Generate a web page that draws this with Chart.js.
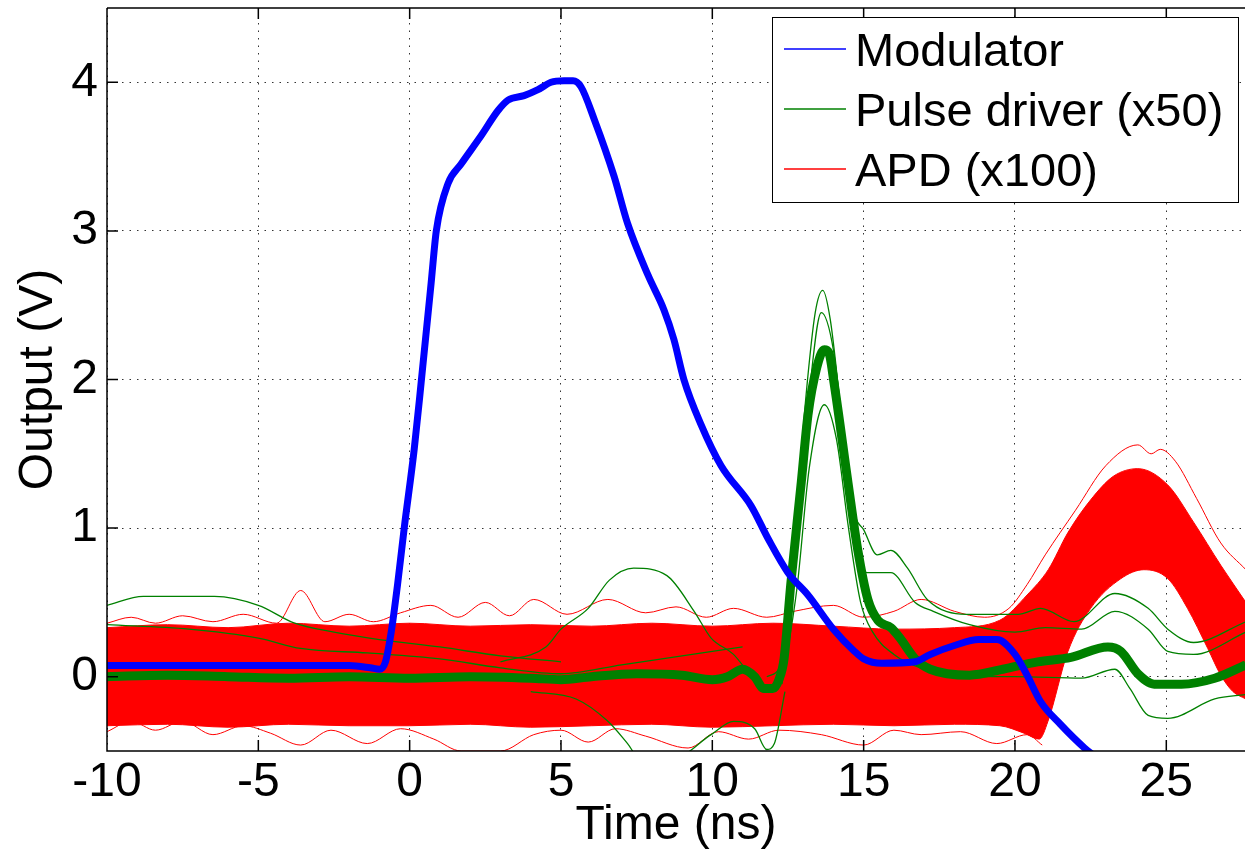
<!DOCTYPE html>
<html>
<head>
<meta charset="utf-8">
<script src="https://cdn.jsdelivr.net/npm/chart.js@4.4.0/dist/chart.umd.min.js"></script>
<style>
  body { margin: 0; background: #fff; }
</style>
</head>
<body>
<canvas id="scope" width="1245" height="855"></canvas>
<script>
// modulator output
const modT = [-10, -8, -6, -4, -2, -1.3, -1.0, -0.8, -0.61, -0.4, -0.18, 0.15, 0.38, 0.71, 0.88, 1.27, 1.7, 2.36, 2.92, 3.25, 3.78, 4.24, 4.67, 5.1, 5.4, 5.66, 6.1, 6.75, 7.2, 7.88, 8.4, 8.73, 9.06, 9.62, 10.29, 11.28, 11.84, 12.5, 13.16, 14.0, 14.7, 15.0, 15.6, 16.7, 17.2, 18.0, 18.8, 19.4, 20.0, 20.4, 20.85, 21.5, 22.3, 22.8];
const modV = [0.075, 0.075, 0.075, 0.075, 0.075, 0.06, 0.05, 0.1, 0.3, 0.62, 1.0, 1.53, 1.98, 2.65, 3.0, 3.32, 3.45, 3.64, 3.81, 3.88, 3.91, 3.95, 4.0, 4.01, 4.01, 3.97, 3.75, 3.37, 3.05, 2.7, 2.47, 2.27, 2.0, 1.7, 1.42, 1.15, 0.93, 0.7, 0.55, 0.32, 0.17, 0.12, 0.09, 0.1, 0.15, 0.21, 0.25, 0.25, 0.15, 0.01, -0.17, -0.32, -0.48, -0.56];

// pulse driver (x50), dense trace
const pdT = [-10, -8, -6, -4, -2, 0, 2, 4, 5, 6, 7.5, 9, 10, 10.5, 11.0, 11.4, 11.7, 12.0, 12.2, 12.37, 12.6, 12.94, 13.16, 13.45, 13.7, 13.85, 14.02, 14.48, 14.8, 15.14, 15.47, 15.9, 16.2, 16.7, 17.2, 18.5, 19.6, 20.75, 21.85, 23.07, 23.5, 24.06, 24.6, 25.5, 26.6, 27.63];
const pdV = [0.0, 0.01, 0.0, -0.01, 0.0, -0.01, 0.0, -0.01, -0.02, 0.0, 0.02, 0.01, -0.02, 0.0, 0.05, 0.0, -0.08, -0.08, -0.02, 0.12, 0.64, 1.31, 1.76, 2.08, 2.2, 2.18, 1.98, 1.31, 0.86, 0.52, 0.38, 0.33, 0.26, 0.12, 0.05, 0.01, 0.05, 0.1, 0.13, 0.2, 0.17, 0.02, -0.05, -0.05, -0.01, 0.08];
// pulse driver, stray traces
const pdHiT = [11.8, 12.3, 12.7, 13.1, 13.4, 13.65, 13.9, 14.3, 14.7, 15.0, 15.45, 15.9, 16.45, 17.1, 18.4, 20.1, 20.85, 21.95, 23.3, 24.4, 25.05, 25.9, 27.63];
const pdHiV = [0.0, 0.1, 0.9, 1.9, 2.45, 2.6, 2.4, 1.7, 1.1, 0.99, 0.82, 0.85, 0.73, 0.52, 0.42, 0.42, 0.46, 0.37, 0.56, 0.46, 0.32, 0.23, 0.37];
const pdMidT = [12.3, 12.8, 13.2, 13.6, 14.0, 14.4, 14.8, 15.1, 15.9, 16.7, 17.3, 18.5, 20.0, 21.0, 22.2, 23.3, 24.4, 25.05, 25.9, 27.63];
const pdMidV = [0.05, 1.0, 1.9, 2.45, 2.2, 1.5, 0.9, 0.7, 0.7, 0.5, 0.44, 0.35, 0.3, 0.33, 0.32, 0.44, 0.32, 0.17, 0.15, 0.3];
const pdLoT = [12.3, 12.8, 13.2, 13.7, 14.1, 14.5, 14.9, 15.3, 16.0, 17.0, 18.0, 20.0, 22.2, 23.3, 23.8, 24.4, 25.05, 26.6, 27.63];
const pdLoV = [-0.05, 0.6, 1.4, 1.83, 1.6, 1.0, 0.5, 0.3, 0.15, 0.05, 0.0, 0.0, -0.01, 0.05, -0.08, -0.26, -0.28, -0.15, -0.12];
const pdStartT = [-10, -8.8, -6.45, -5, -3.8, -2.5, -1, 1, 3, 5];
const pdStartV = [0.48, 0.54, 0.54, 0.48, 0.36, 0.3, 0.25, 0.2, 0.14, 0.1];
const pdStart2T = [-10, -7.3, -5, -3.6, -1.4, 1, 3, 5, 7, 9, 11];
const pdStart2V = [0.35, 0.32, 0.26, 0.19, 0.16, 0.12, 0.06, 0.02, 0.08, 0.14, 0.2];
const pdBumpT = [3, 4.5, 5.0, 5.9, 6.6, 7.4, 8.5, 9.4, 9.96, 10.7, 11.3, 11.8, 12.2];
const pdBumpV = [0.1, 0.2, 0.32, 0.46, 0.65, 0.73, 0.68, 0.44, 0.26, 0.15, 0.0, -0.1, -0.05];
const pdDipT = [4, 5.5, 6.55, 7.2, 7.6, 8.7, 9.96, 10.7, 11.4, 11.8, 12.05, 12.4];
const pdDipV = [-0.1, -0.15, -0.3, -0.45, -0.55, -0.55, -0.39, -0.3, -0.35, -0.49, -0.45, -0.1];

// APD (x100), envelope of the persistence band
const apdTopT = [-10, -8, -6, -4, -2, 0, 2, 4, 6, 8, 10, 12, 14, 16, 18, 19.5, 20.4, 21.1, 21.75, 22.5, 23.26, 24.06, 25.05, 25.9, 26.8, 27.63];
const apdTopV = [0.33, 0.35, 0.33, 0.36, 0.34, 0.36, 0.34, 0.35, 0.34, 0.36, 0.34, 0.36, 0.34, 0.32, 0.33, 0.38, 0.55, 0.72, 0.97, 1.19, 1.35, 1.4, 1.29, 1.04, 0.75, 0.5];
const apdBotT = [-10, -8, -6, -4, -2, 0, 2, 4, 6, 8, 10, 12, 14, 16, 18, 19.5, 20.3, 20.8, 21.09, 21.75, 22.5, 23.5, 24.26, 25.05, 25.7, 26.37, 26.8, 27.2, 27.63];
const apdBotV = [-0.33, -0.32, -0.34, -0.32, -0.33, -0.33, -0.32, -0.34, -0.33, -0.32, -0.34, -0.33, -0.32, -0.33, -0.32, -0.33, -0.38, -0.42, -0.3, 0.17, 0.46, 0.66, 0.72, 0.66, 0.46, 0.19, 0.01, -0.1, -0.15];
// APD stray traces
const apdHiT = [-10, -9.2, -8.4, -7.5, -6.5, -5.5, -4.4, -3.6, -2.8, -2, -1.2, -0.3, 0.7, 1.6, 2.5, 3.3, 4.1, 5.2, 6.55, 7.8, 8.8, 9.8, 10.7, 11.8, 12.7, 14.0, 15.0, 16.0, 16.9, 18.0, 19.0, 19.8, 20.4, 21.0, 22.0, 23.0, 24.06, 24.5, 24.8, 25.3, 26.0, 26.8, 27.63];
const apdHiV = [0.36, 0.4, 0.36, 0.41, 0.37, 0.42, 0.36, 0.58, 0.37, 0.42, 0.37, 0.43, 0.48, 0.4, 0.5, 0.41, 0.52, 0.42, 0.52, 0.43, 0.47, 0.4, 0.46, 0.4, 0.44, 0.48, 0.4, 0.44, 0.52, 0.44, 0.4, 0.46, 0.62, 0.82, 1.12, 1.42, 1.56, 1.5, 1.53, 1.45, 1.2, 0.9, 0.72];
const apdLoT = [-10, -9.2, -8.4, -7.5, -6.5, -5.5, -4.6, -3.6, -2.6, -1.4, -0.3, 0.8, 1.7, 3.0, 4.1, 5.0, 5.9, 6.8, 7.8, 9.2, 10.2, 11.2, 12.2, 13.6, 15.0, 16.0, 16.9, 18.2, 19.4, 20.4, 20.9];
const apdLoV = [-0.37, -0.3, -0.36, -0.3, -0.39, -0.33, -0.38, -0.46, -0.36, -0.45, -0.35, -0.42, -0.5, -0.5, -0.39, -0.36, -0.44, -0.35, -0.4, -0.48, -0.37, -0.42, -0.36, -0.39, -0.46, -0.36, -0.39, -0.37, -0.45, -0.39, -0.46];

const xTickVals = [-10, -5, 0, 5, 10, 15, 20, 25];
const yTickVals = [0, 1, 2, 3, 4];
const legendNames = ["Modulator", "Pulse driver (x50)", "APD (x100)"];

const BLUE = "rgb(0, 0, 255)";
const GREEN = "rgb(0, 128, 0)";
const RED = "rgb(255, 0, 0)";
const FONT = { family: "'Liberation Sans', Arial, Helvetica, sans-serif", size: 48 };

function pts(ts, vs) {
    return ts.map((t, i) => ({ x: t, y: vs[i] }));
}

function trace(ts, vs, color, width, extra) {
    return Object.assign({
        data: pts(ts, vs),
        borderColor: color,
        backgroundColor: color,
        borderWidth: width,
        fill: false,
        clip: 0
    }, extra || {});
}

// first dataset ends up on top
const datasets = [
    trace(modT, modV, BLUE, 7),
    trace(pdT, pdV, GREEN, 9),
    trace(pdHiT, pdHiV, GREEN, 1.3),
    trace(pdMidT, pdMidV, GREEN, 1.3),
    trace(pdLoT, pdLoV, GREEN, 1.3),
    trace(pdStartT, pdStartV, GREEN, 1.3),
    trace(pdStart2T, pdStart2V, GREEN, 1.3),
    trace(pdBumpT, pdBumpV, GREEN, 1.3),
    trace(pdDipT, pdDipV, GREEN, 1.3),
    trace(apdTopT, apdTopV, RED, 1, { fill: "+1" }),
    trace(apdBotT, apdBotV, RED, 1),
    trace(apdHiT, apdHiV, RED, 1),
    trace(apdLoT, apdLoV, RED, 1)
];

// box, inward tick marks, legend
const frameTicks = {
    id: "frameTicks",
    afterDatasetsDraw(chart) {
        const { ctx, chartArea: a, scales: { x, y } } = chart;
        ctx.save();
        ctx.strokeStyle = "#000";
        ctx.lineWidth = 1.5;
        ctx.beginPath();
        ctx.moveTo(a.left, a.top);
        ctx.lineTo(a.right, a.top);
        ctx.moveTo(a.left, a.top);
        ctx.lineTo(a.left, a.bottom);
        ctx.lineTo(a.right, a.bottom);
        x.ticks.forEach(t => {
            const px = x.getPixelForValue(t.value);
            ctx.moveTo(px, a.bottom);
            ctx.lineTo(px, a.bottom - 11);
            ctx.moveTo(px, a.top);
            ctx.lineTo(px, a.top + 11);
        });
        y.ticks.forEach(t => {
            const py = y.getPixelForValue(t.value);
            ctx.moveTo(a.left, py);
            ctx.lineTo(a.left + 11, py);
        });
        ctx.stroke();
        ctx.restore();
    },
    afterDraw(chart) {
        const ctx = chart.ctx;
        const colors = [BLUE, GREEN, RED];
        const bx = 772, by = 17, bw = 466, bh = 185;
        ctx.save();
        ctx.fillStyle = "#fff";
        ctx.fillRect(bx, by, bw, bh);
        ctx.strokeStyle = "#000";
        ctx.lineWidth = 1;
        ctx.strokeRect(bx + 0.5, by + 0.5, bw, bh);
        ctx.font = "47px " + FONT.family;
        ctx.textBaseline = "alphabetic";
        ctx.textAlign = "left";
        legendNames.forEach((name, i) => {
            const ry = 49 + i * 60;
            ctx.strokeStyle = colors[i];
            ctx.lineWidth = 1.5;
            ctx.beginPath();
            ctx.moveTo(784, ry);
            ctx.lineTo(846, ry);
            ctx.stroke();
            ctx.fillStyle = "#000";
            ctx.fillText(name, 855, ry + 17);
        });
        ctx.restore();
    }
};

new Chart(document.getElementById("scope"), {
    type: "line",
    data: { datasets: datasets },
    plugins: [frameTicks],
    options: {
        responsive: false,
        animation: false,
        layout: { padding: { top: 8, left: 0, right: 0, bottom: 0 } },
        plugins: { legend: { display: false }, tooltip: { enabled: false } },
        elements: {
            point: { radius: 0 },
            line: { cubicInterpolationMode: "monotone" }
        },
        scales: {
            x: {
                type: "linear",
                min: -10,
                max: 27.6,
                afterBuildTicks: s => { s.ticks = xTickVals.map(v => ({ value: v })); },
                ticks: { font: FONT, color: "#000", padding: 3, maxRotation: 0, autoSkip: false },
                grid: { color: "rgba(0,0,0,0.8)", lineWidth: 1, drawTicks: false },
                border: { display: false, dash: [1.5, 6] },
                title: { display: true, text: "Time (ns)", font: FONT, color: "#000", padding: 0 },
                afterFit: s => { s.height = 104; s.paddingLeft = 0; s.paddingRight = 0; }
            },
            y: {
                type: "linear",
                min: -0.5,
                max: 4.5,
                afterBuildTicks: s => { s.ticks = yTickVals.map(v => ({ value: v })); },
                ticks: { font: FONT, color: "#000", padding: 9, autoSkip: false },
                grid: { color: "rgba(0,0,0,0.8)", lineWidth: 1, drawTicks: false },
                border: { display: false, dash: [1.5, 6] },
                title: { display: true, text: "Output (V)", font: FONT, color: "#000", padding: { top: 10, bottom: 0 } },
                afterFit: s => { s.width = 107; s.paddingTop = 0; s.paddingBottom = 0; }
            }
        }
    }
});
</script>
</body>
</html>
